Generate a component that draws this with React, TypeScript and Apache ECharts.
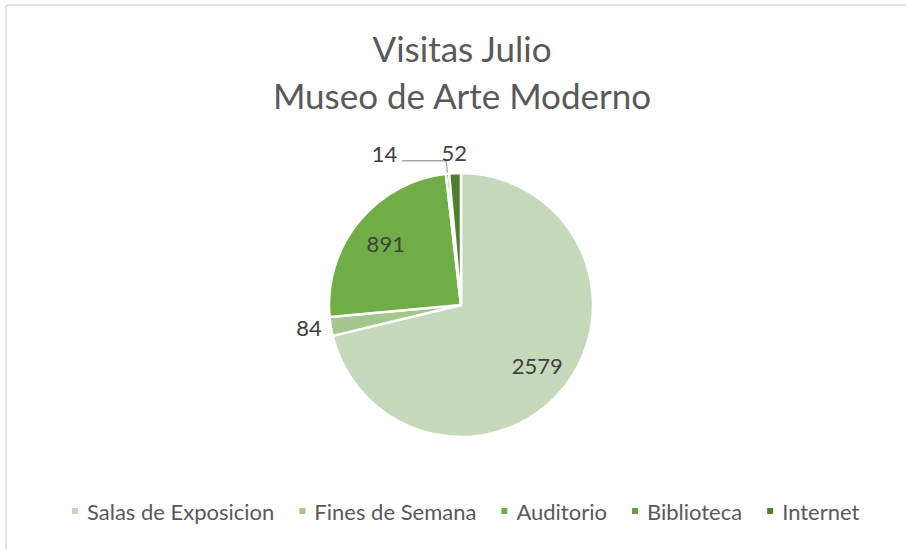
import React, { useEffect, useRef } from 'react';
import * as echarts from 'echarts';

const categories = ['Salas de Exposicion', 'Fines de Semana', 'Auditorio', 'Biblioteca', 'Internet'];
const values = [2579, 84, 891, 14, 52];
const colors = ['#C5D9BA', '#A3C68D', '#70AD47', '#629D3F', '#4E7F2F'];
const titleLines = ['Visitas Julio', 'Museo de Arte Moderno'];
const insideLabelIdx = [0, 2];

const FONT = 'Lato, "Open Sans", sans-serif';

export default function App() {
  const ref = useRef<HTMLDivElement>(null);
  useEffect(() => {
    if (!ref.current) return;
    const chart = echarts.init(ref.current, undefined, { renderer: 'svg' });
    const center = [461, 305];
    const R = 132;
    const outsideOverrides: Record<number, any> = {
      1: { labelLine: { show: false, length: 4, length2: 0 } },
      3: {
        labelLine: { show: true, length: 13, length2: 44, lineStyle: { color: '#A6A6A6', width: 1.3 } },
        label: { formatter: '{c}\n', lineHeight: 14 },
      },
      4: { labelLine: { show: false, length: 21, length2: 0 }, label: { distanceToLabelLine: -13 } },
    };
    const mainData = categories.map((name, i) => {
      const base: any = { name, value: values[i], itemStyle: { color: colors[i] } };
      if (insideLabelIdx.includes(i)) {
        base.label = { show: false };
        base.labelLine = { show: false };
      } else {
        const o = outsideOverrides[i] || {};
        base.label = { show: true, ...(o.label || {}) };
        base.labelLine = o.labelLine;
      }
      return base;
    });
    const overlayData = categories.map((name, i) => ({
      name,
      value: values[i],
      label: { show: insideLabelIdx.includes(i) },
    }));
    chart.setOption({
      animation: false,
      backgroundColor: '#ffffff',
      graphic: [
        {
          type: 'rect',
          z: -10,
          shape: { x: 6, y: 5, width: 960, height: 620, r: 2 },
          style: { fill: 'none', stroke: '#D9D9D9', lineWidth: 1.5 },
          silent: true,
        },
        {
          type: 'text',
          x: 462,
          y: 48,
          style: {
            text: titleLines[0],
            textAlign: 'center',
            textVerticalAlign: 'middle',
            fontFamily: FONT,
            fontSize: 35,
            fill: '#595959',
          },
        },
        {
          type: 'text',
          x: 462,
          y: 95,
          style: {
            text: titleLines[1],
            textAlign: 'center',
            textVerticalAlign: 'middle',
            fontFamily: FONT,
            fontSize: 35,
            fill: '#595959',
          },
        },
      ],
      legend: {
        data: categories,
        left: 65,
        top: 495,
        orient: 'horizontal',
        icon: 'rect',
        itemWidth: 8,
        itemHeight: 8,
        itemGap: 23,
        textStyle: { fontFamily: FONT, fontSize: 22, color: '#595959', padding: [0, 0, 0, 3] },
      },
      series: [
        {
          type: 'pie',
          center,
          radius: R,
          startAngle: 90,
          clockwise: true,
          avoidLabelOverlap: false,
          itemStyle: { borderColor: '#ffffff', borderWidth: 2.5 },
          label: { position: 'outside', formatter: '{c}', fontFamily: FONT, fontSize: 22, color: '#404040' },
          labelLine: { show: false },
          labelLayout: { hideOverlap: false },
          emphasis: { disabled: true },
          data: mainData,
        },
        {
          type: 'pie',
          center,
          radius: [56, R],
          startAngle: 90,
          clockwise: true,
          silent: true,
          avoidLabelOverlap: false,
          itemStyle: { color: 'transparent', borderWidth: 0 },
          label: { position: 'inside', formatter: '{c}', fontFamily: FONT, fontSize: 22, color: '#404040' },
          labelLine: { show: false },
          emphasis: { disabled: true },
          data: overlayData,
        },
      ],
    });
    return () => chart.dispose();
  }, []);
  return (
    <div
      ref={ref}
      style={{ position: 'fixed', left: 0, top: 0, width: 906, height: 549 }}
    />
  );
}
